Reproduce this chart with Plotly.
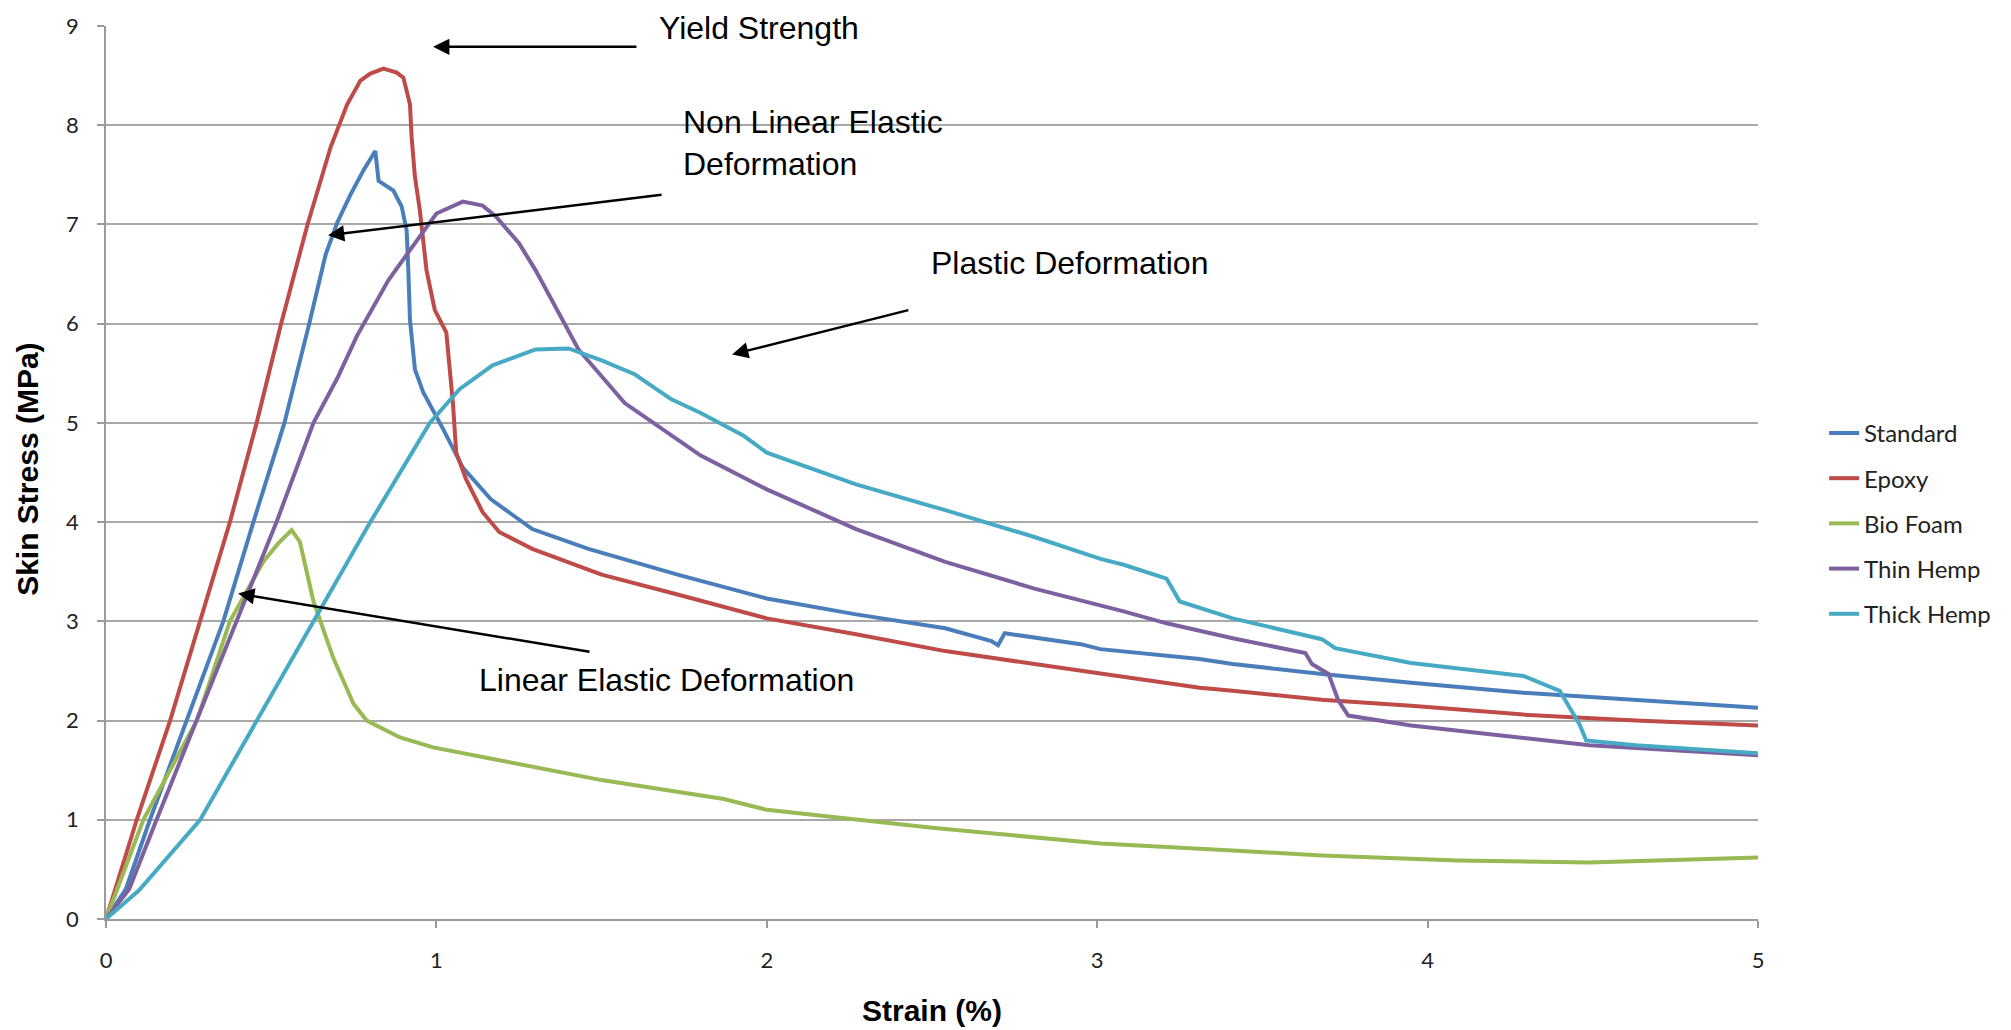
import plotly.graph_objects as go

# ---- data ----
series_names = ["Standard", "Epoxy", "Bio Foam", "Thin Hemp", "Thick Hemp"]
series_colors = ["#4A7EBB", "#BE4B48", "#98B954", "#7D60A0", "#46AAC5"]

standard_x = [0, 0.06, 0.133, 0.244, 0.355, 0.446, 0.54, 0.615, 0.665, 0.70, 0.74, 0.78, 0.815,
              0.825, 0.87, 0.895, 0.91, 0.915, 0.92, 0.935, 0.96, 1.02, 1.08, 1.165, 1.29, 1.46,
              1.73, 2.0, 2.27, 2.54, 2.68, 2.70, 2.72, 2.95, 3.01, 3.31, 3.41, 3.68, 3.95, 4.29,
              4.63, 5.0]
standard_y = [0, 0.3, 1, 2, 3, 4, 5, 6, 6.7, 7.02, 7.3, 7.55, 7.74,
              7.44, 7.34, 7.18, 6.94, 6.54, 6.04, 5.54, 5.31, 4.94, 4.55, 4.23, 3.93, 3.73,
              3.47, 3.23, 3.07, 2.93, 2.80, 2.76, 2.88, 2.77, 2.72, 2.62, 2.57, 2.47, 2.38, 2.28,
              2.21, 2.13]

epoxy_x = [0, 0.093, 0.194, 0.285, 0.375, 0.456, 0.53, 0.61, 0.68, 0.73, 0.77, 0.80, 0.84, 0.88,
           0.90, 0.92, 0.925, 0.935, 0.95, 0.97, 0.995, 1.03, 1.04, 1.05, 1.06, 1.09, 1.14, 1.19,
           1.29, 1.50, 1.73, 2.0, 2.27, 2.54, 2.81, 3.01, 3.31, 3.41, 3.68, 3.95, 4.29, 4.63, 5.0]
epoxy_y = [0, 1, 2, 3, 4, 5, 6, 7, 7.78, 8.21, 8.45, 8.52, 8.57, 8.53,
           8.48, 8.21, 7.88, 7.48, 7.14, 6.54, 6.14, 5.91, 5.54, 5.2, 4.7, 4.43, 4.1, 3.9,
           3.73, 3.47, 3.27, 3.03, 2.87, 2.70, 2.57, 2.47, 2.33, 2.30, 2.21, 2.15, 2.06, 2.0, 1.95]

biofoam_x = [0, 0.113, 0.275, 0.375, 0.476, 0.52, 0.562, 0.587, 0.628, 0.688, 0.749, 0.789, 0.89,
             0.99, 1.19, 1.50, 1.87, 2.0, 2.5, 3.01, 3.41, 3.68, 4.09, 4.49, 5.0]
biofoam_y = [0, 1, 2, 3, 3.6, 3.78, 3.92, 3.8, 3.2, 2.63, 2.17, 2.0, 1.83,
             1.73, 1.6, 1.40, 1.21, 1.1, 0.92, 0.76, 0.69, 0.64, 0.59, 0.57, 0.62]

thinhemp_x = [0, 0.07, 0.153, 0.275, 0.395, 0.516, 0.628, 0.70, 0.76, 0.855, 0.95, 1.0, 1.08, 1.14,
              1.18, 1.25, 1.30, 1.37, 1.43, 1.57, 1.80, 2.0, 2.27, 2.54, 2.81, 3.08, 3.21, 3.41,
              3.63, 3.65, 3.70, 3.73, 3.76, 3.95, 4.23, 4.49, 5.0]
thinhemp_y = [0, 0.3, 1, 2, 3, 4, 5, 5.45, 5.88, 6.44, 6.88, 7.11, 7.23, 7.19,
              7.08, 6.81, 6.54, 6.11, 5.74, 5.2, 4.67, 4.33, 3.93, 3.60, 3.33, 3.10, 2.98, 2.83,
              2.68, 2.57, 2.47, 2.20, 2.05, 1.95, 1.85, 1.75, 1.65]

thickhemp_x = [0, 0.10, 0.285, 0.456, 0.628, 0.80, 0.98, 1.07, 1.17, 1.30, 1.40, 1.50, 1.60, 1.71,
               1.80, 1.93, 2.0, 2.27, 2.54, 2.81, 3.01, 3.08, 3.21, 3.25, 3.41, 3.68, 3.72, 3.95,
               4.29, 4.40, 4.43, 4.46, 4.48, 4.63, 5.0]
thickhemp_y = [0, 0.29, 1, 2, 3, 4, 5, 5.34, 5.58, 5.74, 5.75, 5.63, 5.49, 5.24,
               5.10, 4.87, 4.70, 4.38, 4.12, 3.85, 3.63, 3.57, 3.43, 3.2, 3.03, 2.82, 2.73, 2.58,
               2.45, 2.30, 2.13, 1.96, 1.80, 1.75, 1.67]

x_ticks = [0, 1, 2, 3, 4, 5]
y_ticks = [0, 1, 2, 3, 4, 5, 6, 7, 8, 9]

# annotations: (text, text_x, text_y, arrow_head_x, arrow_head_y, arrow_tail_x, arrow_tail_y)
notes = [
    ("Yield Strength", 1.669, 8.98, 0.99, 8.79, 1.61, 8.79),
    ("Non Linear Elastic<br>Deformation", 1.74, 7.82, 0.672, 6.89, 1.686, 7.30),
    ("Plastic Deformation", 2.49, 6.61, 1.895, 5.69, 2.433, 6.14),
    ("Linear Elastic Deformation", 1.123, 2.41, 0.40, 3.28, 1.468, 2.69),
]

xs = [standard_x, epoxy_x, biofoam_x, thinhemp_x, thickhemp_x]
ys = [standard_y, epoxy_y, biofoam_y, thinhemp_y, thickhemp_y]

fig = go.Figure()
for i, (name, color) in enumerate(zip(series_names, series_colors)):
    fig.add_trace(go.Scatter(
        x=xs[i], y=ys[i], mode="lines", name=name,
        line=dict(color=color, width=4),
        legendgroup=name,
    ))

annotations = []
for text, tx, ty, hx, hy, ax, ay in notes:
    annotations.append(dict(
        x=hx, y=hy, ax=ax, ay=ay, xref="x", yref="y", axref="x", ayref="y",
        text="", showarrow=True, arrowhead=2, arrowsize=1.3, arrowwidth=2.5,
        arrowcolor="black",
    ))
    annotations.append(dict(
        x=tx, y=ty, xref="x", yref="y", text=text, showarrow=False,
        xanchor="left", yanchor="middle", align="left",
        font=dict(family="Liberation Sans, Arial, sans-serif", size=32, color="black"),
    ))

annotations.append(dict(
    x=0.5, y=-0.1026, xref="paper", yref="paper", text="Strain (%)", showarrow=False,
    xanchor="center", yanchor="middle",
    font=dict(family="Liberation Sans, Arial, sans-serif", size=30, color="black", weight="bold"),
))
annotations.append(dict(
    x=-0.0472, y=0.503, xref="paper", yref="paper", text="Skin Stress (MPa)", showarrow=False,
    xanchor="center", yanchor="middle", textangle=-90,
    font=dict(family="Liberation Sans, Arial, sans-serif", size=30, color="black", weight="bold"),
))

fig.update_layout(
    width=2011, height=1030,
    margin=dict(l=106, r=253, t=22, b=111),
    paper_bgcolor="white", plot_bgcolor="white",
    showlegend=True,
    legend=dict(
        x=1.040, y=0.569, xanchor="left", yanchor="top",
        font=dict(family="Lato, sans-serif", size=24, color="#222"),
        tracegroupgap=11, bgcolor="rgba(0,0,0,0)",
    ),
    annotations=annotations,
)
fig.update_xaxes(
    range=[0, 5], tickvals=x_ticks, showgrid=False, zeroline=False,
    showline=True, linecolor="#9A9A9A", linewidth=1.5,
    ticks="outside", ticklen=7, tickcolor="#9A9A9A", tickwidth=1.5,
    tickfont=dict(family="Lato, sans-serif", size=22, color="#222"),
    ticklabelstandoff=14,
)
fig.update_yaxes(
    range=[0, 9], tickvals=y_ticks, showgrid=True, gridcolor="#A8A8A8", gridwidth=1.5,
    zeroline=False, showline=True, linecolor="#9A9A9A", linewidth=1.5,
    ticks="outside", ticklen=7, tickcolor="#9A9A9A", tickwidth=1.5,
    tickfont=dict(family="Lato, sans-serif", size=22, color="#222"),
    ticklabelstandoff=14,
)

fig.write_html(
    "out.html",
    config={"displayModeBar": False},
    post_script="document.body.style.margin='0px';document.body.style.overflow='hidden';",
)
